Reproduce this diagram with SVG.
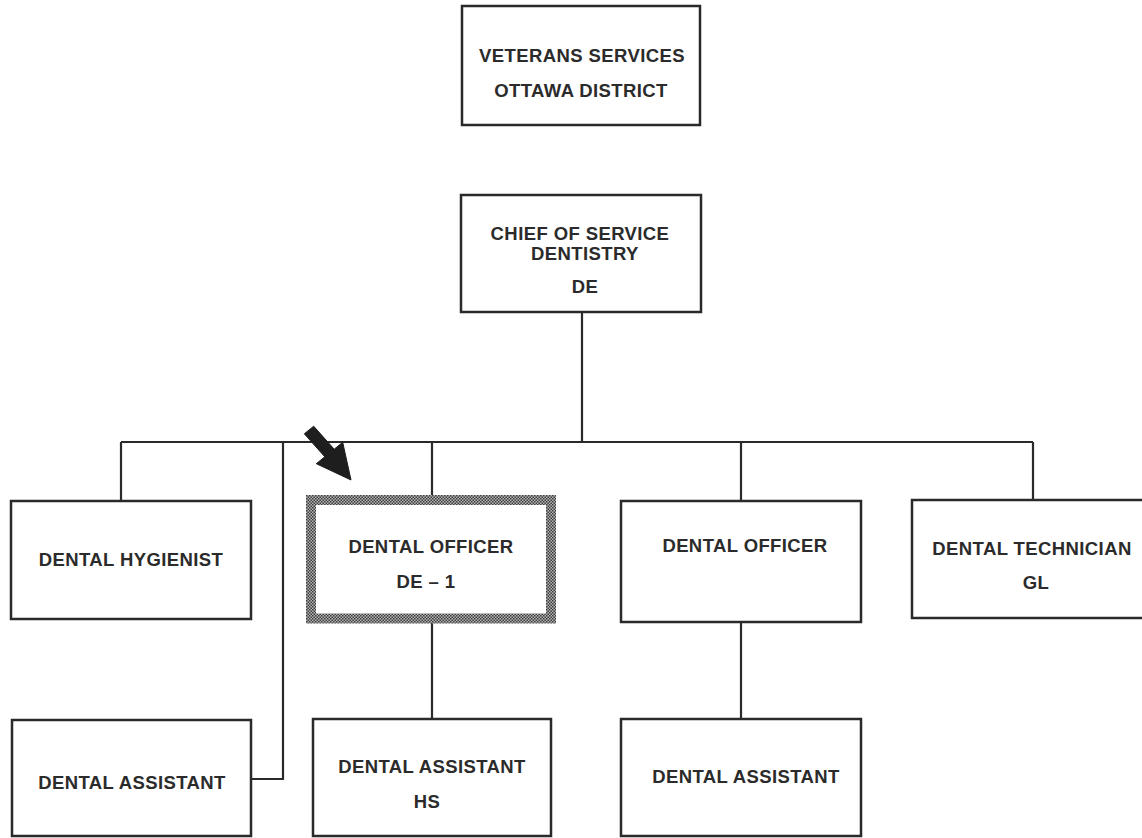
<svg xmlns="http://www.w3.org/2000/svg" width="1142" height="838" viewBox="0 0 1142 838">
<defs>
<pattern id="chk" width="3" height="3" patternUnits="userSpaceOnUse">
<rect width="3" height="3" fill="#b4b4b4"/>
<rect width="1.5" height="1.5" fill="#3c3c3c"/>
<rect x="1.5" y="1.5" width="1.5" height="1.5" fill="#3c3c3c"/>
</pattern>
</defs>
<style>
.box{fill:#fff;stroke:#2a2a2a;stroke-width:2.5}
.hl{fill:#fff;stroke:url(#chk);stroke-width:10}
.t{font-family:"Liberation Sans",Arial,sans-serif;font-weight:bold;font-size:18.5px;letter-spacing:0.4px;fill:#2b2b2b;text-anchor:middle}
.c{fill:none;stroke:#2a2a2a;stroke-width:2.2}
</style>
<rect width="1142" height="838" fill="#fff"/>
<g id="connectors">
<path class="c" d="M582 312 V442 M121 442 H1033 M121 442 V501 M283 442 V779 H251 M432 442 V495 M741 442 V501 M1033 442 V500 M432 623 V719 M741 622 V719"/>
</g>
<g id="veterans">
<rect class="box" x="462" y="6" width="238" height="119"/>
<text class="t" x="582" y="62">VETERANS SERVICES</text>
<text class="t" x="581" y="97">OTTAWA DISTRICT</text>
</g>
<g id="chief">
<rect class="box" x="461" y="195" width="240" height="117"/>
<text class="t" x="580" y="240">CHIEF OF SERVICE</text>
<text class="t" x="585" y="260">DENTISTRY</text>
<text class="t" x="585" y="293">DE</text>
</g>
<g id="hygienist">
<rect class="box" x="11" y="501" width="240" height="118"/>
<text class="t" x="131" y="566">DENTAL HYGIENIST</text>
</g>
<g id="officer1">
<rect class="hl" x="311" y="500" width="240" height="118.5"/>
<text class="t" x="431" y="553">DENTAL OFFICER</text>
<text class="t" x="426" y="588">DE – 1</text>
</g>
<g id="officer2">
<rect class="box" x="621" y="501" width="240" height="121"/>
<text class="t" x="745" y="552">DENTAL OFFICER</text>
</g>
<g id="technician">
<rect class="box" x="912" y="500" width="240" height="118"/>
<text class="t" x="1032" y="555">DENTAL TECHNICIAN</text>
<text class="t" x="1036" y="589">GL</text>
</g>
<g id="assistant1">
<rect class="box" x="12" y="720" width="239" height="116"/>
<text class="t" x="132" y="789">DENTAL ASSISTANT</text>
</g>
<g id="assistant2">
<rect class="box" x="313" y="719" width="238" height="117"/>
<text class="t" x="432" y="773">DENTAL ASSISTANT</text>
<text class="t" x="427" y="808">HS</text>
</g>
<g id="assistant3">
<rect class="box" x="621" y="719" width="240" height="117"/>
<text class="t" x="746" y="783">DENTAL ASSISTANT</text>
</g>
<g id="pointer">
<polygon points="304.3,433.8 313.7,426.2 334.2,449.2 342.7,442.3 351,480 316.3,463.7 324.8,456.8" fill="#1e1e1e" stroke="#1e1e1e" stroke-width="1" stroke-linejoin="round"/>
</g>
</svg>
